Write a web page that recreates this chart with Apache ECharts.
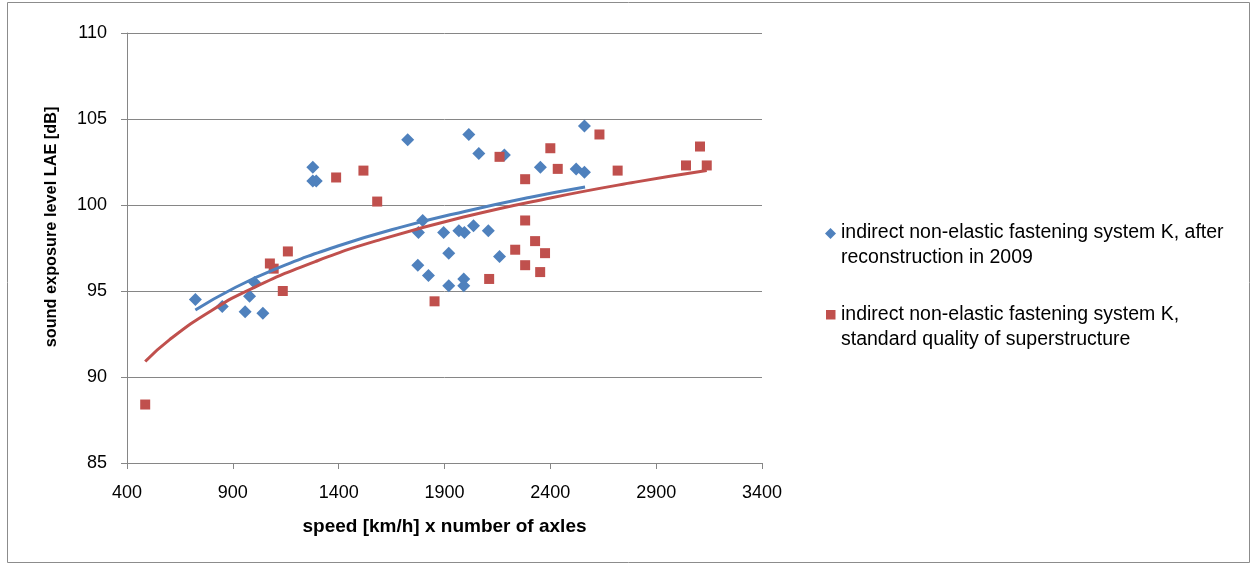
<!DOCTYPE html>
<html>
<head>
<meta charset="utf-8">
<script src="https://cdn.jsdelivr.net/npm/echarts@6/dist/echarts.min.js"></script>
<style>
html,body{margin:0;padding:0;background:#fff;}
#chart{width:1255px;height:568px;}
</style>
</head>
<body>
<div id="chart"></div>
<script>
// x: speed [km/h] x number of axles, y: LAE [dB]
const blueX = [723, 850, 958, 979, 1002, 1042, 1278, 1278, 1294, 1726, 1774, 1777, 1797, 1824, 1896, 1920, 1920, 1968, 1991, 1991, 1994, 2015, 2037, 2062, 2107, 2160, 2183, 2353, 2522, 2561, 2561];
const blueY = [94.5, 94.1, 93.8, 94.7, 95.5, 93.7, 102.2, 101.4, 101.4, 103.8, 96.5, 98.4, 99.1, 95.9, 98.4, 97.2, 95.3, 98.5, 95.7, 95.3, 98.4, 104.1, 98.8, 103.0, 98.5, 97.0, 102.9, 102.2, 102.1, 101.9, 104.6];
const redX = [486, 1075, 1093, 1136, 1160, 1388, 1517, 1582, 1853, 2111, 2160, 2234, 2281, 2281, 2281, 2328, 2352, 2375, 2400, 2435, 2632, 2718, 3041, 3107, 3139];
const redY = [88.4, 96.6, 96.3, 95.0, 97.3, 101.6, 102.0, 100.2, 94.4, 95.7, 102.8, 97.4, 101.5, 99.1, 96.5, 97.9, 96.1, 97.2, 103.3, 102.1, 104.1, 102.0, 102.3, 103.4, 102.3];
// trend lines
const blueTrendX = [723, 900, 1100, 1400, 1700, 2000, 2300, 2564];
const blueTrendY = [93.9, 95.13, 96.27, 97.63, 98.73, 99.64, 100.44, 101.05];
const redTrendX = [486, 600, 800, 1000, 1300, 1600, 2000, 2400, 2800, 3139];
const redTrendY = [90.9, 92.16, 93.87, 95.2, 96.76, 98.0, 99.33, 100.41, 101.33, 102.01];
// axis
const xTicks = [400, 900, 1400, 1900, 2400, 2900, 3400];
const yTicks = [85, 90, 95, 100, 105, 110];
const seriesNames = ['indirect non-elastic fastening system K, after\nreconstruction in 2009',
                     'indirect non-elastic fastening system K,\nstandard quality of superstructure'];

const BLUE = '#4F81BD', RED = '#C0504D';
const FONT = 'Liberation Sans';
const zip = (a, b) => a.map((v, i) => [v, b[i]]);

const chart = echarts.init(document.getElementById('chart'), null, {renderer: 'canvas'});
chart.setOption({
  animation: false,
  backgroundColor: '#fff',
  grid: {left: 127, right: 493, top: 33, bottom: 105, containLabel: false},
  xAxis: {
    type: 'value', min: xTicks[0], max: xTicks[xTicks.length - 1], interval: xTicks[1] - xTicks[0],
    name: 'speed [km/h] x number of axles', nameLocation: 'middle', nameGap: 54,
    nameTextStyle: {fontFamily: FONT, fontWeight: 'bold', fontSize: 19, color: '#000'},
    axisLine: {show: true, onZero: false, lineStyle: {color: '#868686', width: 1}},
    axisTick: {show: true, length: 6, lineStyle: {color: '#868686'}},
    axisLabel: {fontFamily: FONT, fontSize: 18, color: '#000', margin: 21, formatter: v => String(v)},
    splitLine: {show: false}
  },
  yAxis: {
    type: 'value', min: yTicks[0], max: yTicks[yTicks.length - 1], interval: yTicks[1] - yTicks[0],
    axisLine: {show: true, lineStyle: {color: '#868686', width: 1}},
    axisTick: {show: true, length: 6, lineStyle: {color: '#868686'}},
    axisLabel: {fontFamily: FONT, fontSize: 18, color: '#000', margin: 20, formatter: v => String(v)},
    splitLine: {show: true, lineStyle: {color: '#868686', width: 1}}
  },
  series: [
    {name: seriesNames[0], type: 'scatter', symbol: 'diamond', symbolSize: 13,
     itemStyle: {color: BLUE, opacity: 1}, data: zip(blueX, blueY), z: 3},
    {name: seriesNames[1], type: 'scatter', symbol: 'rect', symbolSize: 10,
     itemStyle: {color: RED, opacity: 1}, data: zip(redX, redY), z: 3},
    {type: 'line', smooth: true, showSymbol: false, symbol: 'none',
     lineStyle: {color: BLUE, width: 3}, data: zip(blueTrendX, blueTrendY), z: 4},
    {type: 'line', smooth: true, showSymbol: false, symbol: 'none',
     lineStyle: {color: RED, width: 3}, data: zip(redTrendX, redTrendY), z: 4}
  ],
  graphic: [
    {type: 'rect', shape: {x: 7.5, y: 2.5, width: 1242, height: 560}, style: {fill: 'none', stroke: '#8c8c8c', lineWidth: 1}, silent: true, z: -10},
    {type: 'text', x: 52, y: 227, rotation: Math.PI / 2,
     style: {text: 'sound exposure level LAE [dB]', fontFamily: FONT, fontWeight: 'bold', fontSize: 16.3, fill: '#000', align: 'center', verticalAlign: 'middle'}},
    // legend
    {type: 'polygon', shape: {points: [[830.5, 228], [836, 233.5], [830.5, 239], [825, 233.5]]}, style: {fill: BLUE}},
    {type: 'text', x: 841, y: 220.5, style: {text: seriesNames[0], fontFamily: FONT, fontSize: 19.5, lineHeight: 25, fill: '#000', align: 'left', verticalAlign: 'top'}},
    {type: 'rect', shape: {x: 826, y: 310, width: 9.5, height: 9.5}, style: {fill: RED}},
    {type: 'text', x: 841, y: 302.5, style: {text: seriesNames[1], fontFamily: FONT, fontSize: 19.5, lineHeight: 25, fill: '#000', align: 'left', verticalAlign: 'top'}}
  ]
});
</script>
</body>
</html>
